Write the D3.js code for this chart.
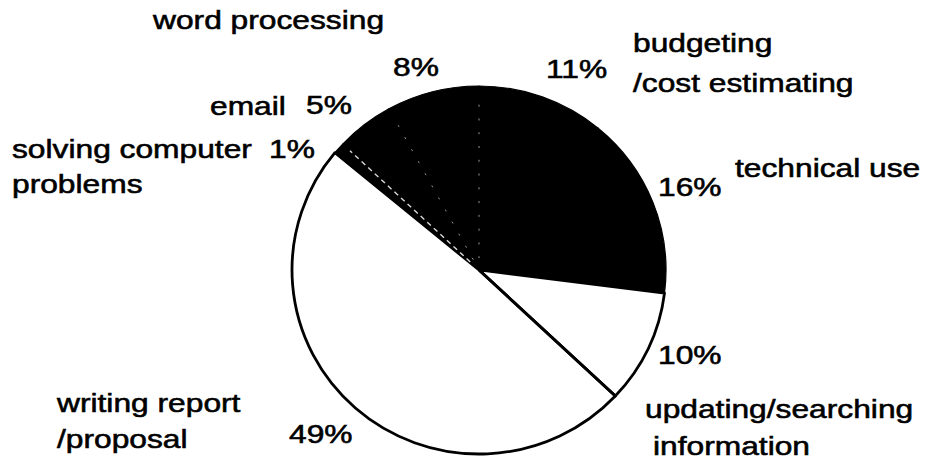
<!DOCTYPE html>
<html>
<head>
<meta charset="utf-8">
<script src="https://cdn.jsdelivr.net/npm/d3@7"></script>
<style>
  html, body { margin: 0; padding: 0; background: #fff; }
  svg { display: block; }
  text { font-family: "Liberation Sans", Arial, Helvetica, sans-serif; fill: #000; stroke: #000; stroke-width: 0.55; }
</style>
</head>
<body>
<svg id="chart" width="926" height="467"></svg>
<script>
// ---- data ----
const categories = ["budgeting /cost estimating", "technical use", "updating/searching information",
                    "writing report /proposal", "solving computer problems", "email", "word processing"];
const labelLines = [["budgeting", "/cost estimating"], ["technical use"], ["updating/searching", "information"],
                    ["writing report", "/proposal"], ["solving computer", "problems"], ["email"], ["word processing"]];
const values = [11, 16, 10, 49, 1, 5, 8];
const shades = ["dark", "dark", "light", "light", "dark", "dark", "dark"];

// ---- layout (positions only) ----
const W = 926, H = 467;
const cx = 479, cy = 270, rx = 187, ry = 184;
const fontSize = 25, stretch = 1.27;
const nameLayout = [
  { x: 633, y: 52, lh: 40 },
  { x: 735, y: 177, lh: 0 },
  { x: 645, y: 418, lh: 37 },
  { x: 57, y: 412, lh: 36 },
  { x: 12, y: 158, lh: 35 },
  { x: 210, y: 115, lh: 0 },
  { x: 153, y: 29, lh: 0 }
];
const pctLayout = [
  { x: 546, y: 78 }, { x: 658, y: 196 }, { x: 658, y: 364 }, { x: 289, y: 443 },
  { x: 269, y: 158 }, { x: 306, y: 114 }, { x: 393, y: 76 }
];
const dottedStarts = [0, 5, 6];

const svg = d3.select("#chart");
const colour = d3.scaleOrdinal().domain(["dark", "light"]).range(["#000000", "#ffffff"]);

const pie = d3.pie().sort(null).value(d => d).startAngle(0).endAngle(2 * Math.PI);
const arcs = pie(values);
const arc = d3.arc().innerRadius(0).outerRadius(rx);

const g = svg.append("g").attr("transform", `translate(${cx},${cy}) scale(1,${ry / rx})`);

g.selectAll("path.slice").data(arcs).enter().append("path")
  .attr("class", "slice")
  .attr("d", arc)
  .attr("fill", (d, i) => colour(shades[i]))
  .attr("stroke", "#000")
  .attr("stroke-width", (d, i) => shades[i] === "light" ? 2.8 : 1.2)
  .attr("stroke-linejoin", "round");

dottedStarts.forEach(i => {
  const a = arcs[i].startAngle;
  g.append("line")
    .attr("x1", Math.sin(a) * 12).attr("y1", -Math.cos(a) * 12)
    .attr("x2", Math.sin(a) * (rx - 10)).attr("y2", -Math.cos(a) * (rx - 10))
    .attr("stroke", "#fff")
    .attr("stroke-width", i === 5 ? 1.4 : 1)
    .attr("stroke-dasharray", i === 5 ? "5,4" : "2,12")
    .attr("opacity", i === 5 ? 0.85 : 0.6);
});

arcs.forEach((d, i) => {
  const prev = (i - 1 + arcs.length) % arcs.length;
  if (shades[i] === "light" && shades[prev] === "light") {
    const a = d.startAngle;
    g.append("line")
      .attr("x1", 0).attr("y1", 0)
      .attr("x2", Math.sin(a) * rx).attr("y2", -Math.cos(a) * rx)
      .attr("stroke", "#000").attr("stroke-width", 2.8);
  }
});

function addText(str, x, y) {
  svg.append("text")
    .attr("transform", `translate(${x},${y}) scale(${stretch},1)`)
    .attr("font-size", fontSize)
    .text(str);
}

labelLines.forEach((lines, i) => {
  const L = nameLayout[i];
  lines.forEach((s, j) => addText(s, L.x + (j > 0 && i === 2 ? 8 : 0), L.y + j * L.lh));
});

values.forEach((v, i) => addText(v + "%", pctLayout[i].x, pctLayout[i].y));
</script>
</body>
</html>
